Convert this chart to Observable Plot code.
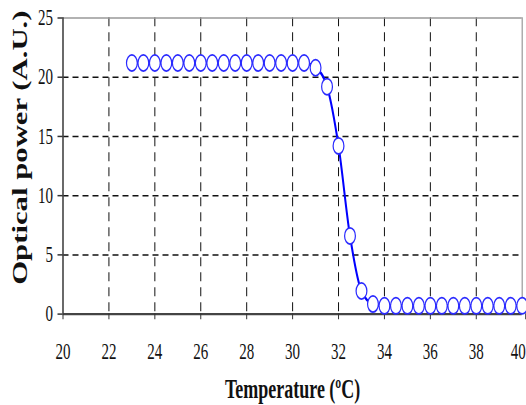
<!DOCTYPE html>
<html>
<head>
<meta charset="utf-8">
<script src="https://cdn.jsdelivr.net/npm/d3@7"></script>
<script src="https://cdn.jsdelivr.net/npm/@observablehq/plot@0.6"></script>
<style>
  html, body { margin: 0; padding: 0; background: white; overflow: hidden; }
  #chart { width: 526px; height: 405px; overflow: hidden; }
  #chart svg { transform: scaleY(1.5); transform-origin: 0 0; max-width: none !important; }
</style>
</head>
<body>
<div id="chart"></div>
<script>
// Data
const temperature = [23, 23.5, 24, 24.5, 25, 25.5, 26, 26.5, 27, 27.5, 28, 28.5, 29, 29.5, 30, 30.5,
  31, 31.5, 32, 32.5, 33, 33.5,
  34, 34.5, 35, 35.5, 36, 36.5, 37, 37.5, 38, 38.5, 39, 39.5, 40];
const opticalPower = [21.2, 21.2, 21.2, 21.2, 21.2, 21.2, 21.2, 21.2, 21.2, 21.2, 21.2, 21.2, 21.2, 21.2, 21.2, 21.2,
  20.8, 19.2, 14.2, 6.6, 1.95, 0.85,
  0.7, 0.7, 0.7, 0.7, 0.7, 0.7, 0.7, 0.7, 0.7, 0.7, 0.7, 0.7, 0.7];
const xTicks = [20, 22, 24, 26, 28, 30, 32, 34, 36, 38];
const xLastTick = [40];
const yTicks = [0, 5, 10, 15, 20, 25];
const xGrid = [22, 24, 26, 28, 30, 32, 34, 36, 38];
const yGrid = [5, 10, 15, 20];
const xLabel = "Temperature (ºC)";
const yLabel = "Optical power (A.U.)";

const data = temperature.map((t, i) => ({t, p: opticalPower[i]}));

const serif = "'Liberation Serif', 'Times New Roman', serif";

const chart = Plot.plot({
  width: 526,
  height: 270,
  marginLeft: 62.5,
  marginRight: 4.3,
  marginTop: 11.5,
  marginBottom: 61.1,
  style: {fontFamily: serif, fontSize: "15px", background: "white", overflow: "visible"},
  x: {domain: [20, 40]},
  y: {domain: [0, 25]},
  marks: [
    Plot.ruleX(xGrid, {stroke: "#111", strokeWidth: 1, strokeDasharray: "6,4"}),
    Plot.ruleY(yGrid, {stroke: "#111", strokeWidth: 1, strokeDasharray: "6,4"}),
    Plot.ruleY([25], {stroke: "#999", strokeWidth: 1}),
    Plot.ruleX([40], {stroke: "#999", strokeWidth: 1.2}),
    Plot.ruleX([20], {stroke: "#444", strokeWidth: 1.6}),
    Plot.ruleY([0], {stroke: "#444", strokeWidth: 1.4}),
    Plot.axisX({ticks: xTicks, tickSize: 4, tickPadding: 15.5, label: null, stroke: "#333",
      fontSize: 15, fill: "#111", tickFormat: d => String(d)}),
    Plot.axisX({ticks: xLastTick, tickSize: 4, tickPadding: 15.5, label: null, stroke: "#333",
      fontSize: 15, fill: "#111", textAnchor: "end", dx: 3.5, tickFormat: d => String(d)}),
    Plot.axisY({ticks: yTicks, tickSize: 5, tickPadding: 5, label: null, stroke: "#333",
      fontSize: 15, fill: "#111", tickFormat: d => String(d)}),
    Plot.line(data, {x: "t", y: "p", stroke: "#0000ff", strokeWidth: 2, curve: "monotone-x"}),
    Plot.dot(data, {x: "t", y: "p", r: 5.4, stroke: "#2a2aff", strokeWidth: 1.2, fill: "white"}),
    Plot.text([xLabel], {frameAnchor: "bottom", dy: 50.3, lineAnchor: "middle",
      fontSize: 18, fontWeight: "bold", fill: "#111"}),
    Plot.text([yLabel], {frameAnchor: "bottom-left", dx: -43, dy: -19.5, rotate: -90,
      textAnchor: "start", lineAnchor: "middle", fontSize: 20.5, fontWeight: "bold", fill: "#111"})
  ]
});

document.getElementById("chart").append(chart);
</script>
</body>
</html>
